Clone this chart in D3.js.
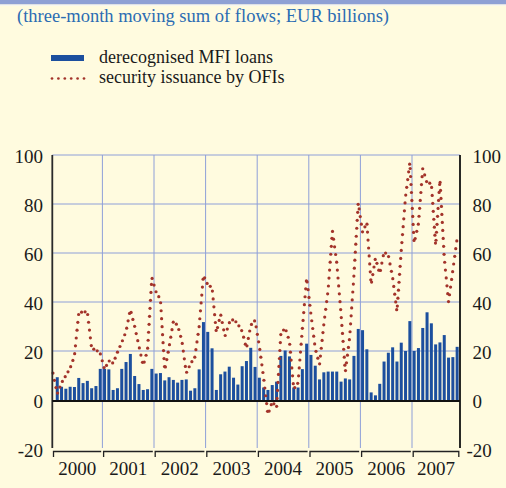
<!DOCTYPE html>
<html><head><meta charset="utf-8">
<script src="https://cdn.jsdelivr.net/npm/d3@7"></script>
<style>
html,body{margin:0;padding:0;background:#fffbdf;}
svg{display:block;}
text{font-family:"Liberation Serif","Times New Roman",serif;}
</style></head><body>
<svg id="c" width="506" height="488"></svg>
<script>
// ---------- data ----------
const title = "(three-month moving sum of flows; EUR billions)";
const seriesNames = ["derecognised MFI loans", "security issuance by OFIs"];
const years = ["2000","2001","2002","2003","2004","2005","2006","2007"];
const yTicks = [-20, 0, 20, 40, 60, 80, 100];

// monthly, Jan 2000 .. Nov 2007
const loans = [
  null, 9.3, 5.4, 4.6, 5.4, 5.3, 9.0, 6.9, 7.8, 4.8, 5.7, 12.7,
  12.7, 12.5, 4.1, 4.8, 12.7, 15.5, 18.8, 9.8, 6.5, 4.1, 4.4, 12.7,
  10.8, 11.0, 8.0, 9.3, 8.2, 7.1, 8.2, 8.4, 3.8, 4.8, 12.5, 31.8,
  27.8, 21.1, 4.1, 10.5, 11.6, 13.6, 9.1, 6.3, 13.8, 15.9, 21.3, 13.5,
  9.1, 5.1, 4.1, 6.1, 7.5, 18.0, 20.2, 17.8, 5.1, 5.1, 12.6, 23.0,
  18.4, 14.0, 8.4, 11.3, 11.6, 11.6, 11.6, 7.5, 8.8, 8.4, 18.0, 29.0,
  28.5, 20.7, 3.1, 1.9, 6.6, 15.7, 19.3, 21.5, 15.7, 23.4, 20.0, 32.2,
  20.0, 21.2, 29.4, 35.8, 31.3, 22.7, 23.5, 26.5, 17.3, 17.5, 21.7
];
const ofis = [
  11, 2.5, 7, 10, 13, 18, 35.5, 36, 36, 21, 20.5, 19,
  12.5, 16, 15, 19.5, 23.5, 28, 37, 30, 22, 14, 20.5, 50,
  44, 41, 12, 21.5, 32, 30.5, 24, 11, 14.8, 17.5, 30, 51,
  47, 46, 27.5, 35, 26, 31.5, 33, 31, 28, 21, 30.5, 32.5,
  22, 9, -6, -0.7, -3, 27, 29.5, 24, 4.5, 7, 29, 50,
  35, 21, 14.5, 31, 45, 69, 56, 35, 11.5, 25.5, 51, 80.5,
  68.5, 72.5, 47, 58, 51.5, 60.5, 59, 50, 36, 61, 83, 97,
  64, 72, 94.5, 88.5, 88.5, 63, 90, 58, 40, 53, 66
];

// ---------- layout / style ----------
const barColor = "#1c4f9e";
const dotColor = "#a3332a";
const gridColor = "#8e9fd8";
const titleColor = "#2b6cb3";
const textColor = "#1a1a1a";
const plotL = 52.3, plotR = 460;

const svg = d3.select("#c");
svg.append("rect").attr("width",506).attr("height",488).attr("fill","#fffbdf");
svg.append("rect").attr("width",506).attr("height",4.5).attr("fill","#8ea0d4");
svg.append("rect").attr("y",4.5).attr("width",506).attr("height",1.5).attr("fill","#f6f6f0");

const n = ofis.length;
const x = d3.scaleBand().domain(d3.range(n)).range([50.8, 459.3]).padding(0);
const y = d3.scaleLinear().domain([-20, 100]).range([449, 155]);
const cx = i => x(i) + x.bandwidth()/2;

// title
svg.append("text").attr("x",17).attr("y",22).attr("fill",titleColor)
  .attr("font-size",18.5).text(title);

// legend
svg.append("rect").attr("x",51).attr("y",55).attr("width",33).attr("height",6).attr("fill",barColor);
svg.append("text").attr("x",99).attr("y",62.5).attr("font-size",18).attr("fill",textColor).text(seriesNames[0]);
svg.append("g").selectAll("circle").data(d3.range(6)).join("circle")
  .attr("cx",d=>52+d*6.4).attr("cy",78.5).attr("r",1.35).attr("fill",dotColor);
svg.append("text").attr("x",99).attr("y",82.5).attr("font-size",18).attr("fill",textColor).text(seriesNames[1]);

// gridlines
const g = svg.append("g");
g.selectAll("line.h").data(yTicks.filter(v=>v>0)).join("line")
  .attr("x1",plotL).attr("x2",plotR).attr("y1",d=>y(d)).attr("y2",d=>y(d))
  .attr("stroke",gridColor).attr("stroke-width",1);
const yearStarts = years.map((yr,k)=>k*12);
g.selectAll("line.v").data(yearStarts.slice(1)).join("line")
  .attr("x1",d=>x(d)).attr("x2",d=>x(d)).attr("y1",y(100)).attr("y2",y(-20)-1)
  .attr("stroke",gridColor).attr("stroke-width",1);

// bars
const bw = 3;
svg.append("g").selectAll("rect").data(loans.map((v,i)=>({v,i})).filter(d=>d.v!==null)).join("rect")
  .attr("x",d=>cx(d.i)-bw/2).attr("width",bw)
  .attr("y",d=>y(Math.max(0,d.v))).attr("height",d=>Math.abs(y(d.v)-y(0)))
  .attr("fill",barColor);

// dotted line (dots placed along path)
const pts = ofis.map((v,i)=>[cx(i), y(v)]);
function dotsAlong(p, step, k){
  const out=[p[0]]; let need=step;
  for(let i=1;i<p.length;i++){
    const [x0,y0]=p[i-1],[x1,y1]=p[i];
    const dx=x1-x0, dy=y1-y0, L=Math.hypot(dx, dy/k);
    let pos=0;
    while(L-pos>=need){ pos+=need; const t=pos/L; out.push([x0+dx*t,y0+dy*t]); need=step; }
    need-=(L-pos);
  }
  return out;
}
const dots = dotsAlong(pts, 3.5, 2.3).filter(d=>d[0]>=plotL+0.5);
svg.append("g").selectAll("circle").data(dots).join("circle")
  .attr("cx",d=>d[0]).attr("cy",d=>d[1]).attr("r",1.6).attr("fill",dotColor);

// axes lines
svg.append("line").attr("x1",plotL).attr("x2",plotL).attr("y1",y(100)).attr("y2",y(-20)-1)
  .attr("stroke","#2a2a2a").attr("stroke-width",1.8);
svg.append("line").attr("x1",plotR).attr("x2",plotR).attr("y1",y(100)).attr("y2",y(-20)-1)
  .attr("stroke","#111").attr("stroke-width",1.8);
svg.append("line").attr("x1",plotL).attr("x2",plotR).attr("y1",y(0)+1).attr("y2",y(0)+1)
  .attr("stroke","#111").attr("stroke-width",2);

// y tick labels
svg.append("g").selectAll("text").data(yTicks).join("text")
  .attr("x",43).attr("y",d=>y(d)+7.5).attr("text-anchor","end")
  .attr("font-size",19).attr("fill",textColor).text(d=>d);
svg.append("g").selectAll("text").data(yTicks).join("text")
  .attr("x",d=>d<0?466.5:472.5).attr("y",d=>y(d)+7.5).attr("text-anchor","start")
  .attr("font-size",19).attr("fill",textColor).text(d=>d);

// year brackets and labels
const yb = years.map((yr,k)=>{
  const x0 = k===0 ? plotL : x(k*12);
  const x1 = k===years.length-1 ? plotR : x((k+1)*12);
  return {yr,x0,x1,k};
});
svg.append("g").selectAll("path").data(yb).join("path")
  .attr("d",d=>{
    let s=`M${d.x0+1.2},457V451.5H${d.x1-1.2}`;
    if(d.k===years.length-1) s+=`V457`;
    return s;
  })
  .attr("fill","none").attr("stroke","#222").attr("stroke-width",1.3);
svg.append("g").selectAll("text").data(yb).join("text")
  .attr("x",d=>(d.x0+d.x1)/2).attr("y",475).attr("text-anchor","middle")
  .attr("font-size",19).attr("fill",textColor).text(d=>d.yr);
</script>
</body></html>
